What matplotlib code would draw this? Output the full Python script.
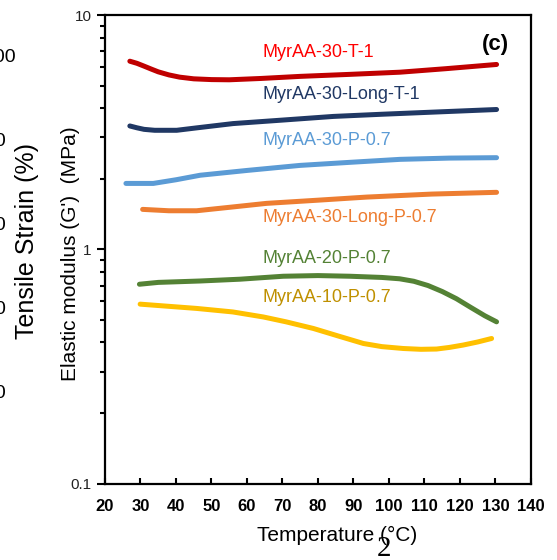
import numpy as np
import matplotlib
matplotlib.use('Agg')
import matplotlib.pyplot as plt
from matplotlib.ticker import LogLocator, NullFormatter, FixedFormatter, FixedLocator

plt.rcParams['font.family'] = ['Liberation Sans', 'DejaVu Sans']

# temperature sweeps (deg C) and storage modulus G' (MPa)
t_30_T1 = [27.0, 29.0, 31.0, 33.0, 35.0, 38.0, 41.0, 45.0, 50.0, 55.0, 64.0, 74.9, 89.0, 103.1, 116.0, 130.3]
g_30_T1 = [6.35, 6.22, 6.05, 5.88, 5.72, 5.55, 5.43, 5.34, 5.30, 5.29, 5.36, 5.47, 5.58, 5.70, 5.90, 6.15]

t_30L_T1 = [27.0, 29.0, 31.0, 34.0, 40.2, 46.0, 56.1, 70.0, 84.3, 98.0, 112.5, 130.3]
g_30L_T1 = [3.36, 3.30, 3.25, 3.22, 3.22, 3.30, 3.44, 3.56, 3.69, 3.77, 3.85, 3.95]

t_30_P07 = [25.9, 33.6, 40.0, 46.8, 60.0, 74.9, 89.0, 103.1, 117.0, 130.3]
g_30_P07 = [1.91, 1.91, 1.98, 2.07, 2.17, 2.28, 2.35, 2.42, 2.45, 2.46]

t_30L_P07 = [30.6, 38.0, 45.8, 55.0, 65.5, 80.0, 93.7, 112.0, 130.3]
g_30L_P07 = [1.48, 1.46, 1.46, 1.51, 1.57, 1.62, 1.67, 1.72, 1.75]

t_20_P07 = [29.7, 35.0, 46.8, 58.0, 70.2, 80.0, 89.0, 98.0, 103.0, 107.0, 111.0, 115.0, 119.0, 123.0, 127.0, 130.3]
g_20_P07 = [0.709, 0.722, 0.732, 0.745, 0.767, 0.772, 0.767, 0.758, 0.748, 0.730, 0.700, 0.660, 0.615, 0.565, 0.520, 0.490]

t_10_P07 = [29.9, 45.8, 56.0, 64.6, 71.0, 78.7, 86.0, 92.8, 98.0, 104.0, 109.0, 113.4, 117.0, 120.9, 125.0, 128.9]
g_10_P07 = [0.583, 0.559, 0.540, 0.514, 0.490, 0.459, 0.425, 0.396, 0.384, 0.377, 0.374, 0.375, 0.381, 0.390, 0.402, 0.416]

series = [
    ('MyrAA-30-T-1', t_30_T1, g_30_T1, '#C00000', '#FF0000', 6.9),
    ('MyrAA-30-Long-T-1', t_30L_T1, g_30L_T1, '#203864', '#203864', 4.6),
    ('MyrAA-30-P-0.7', t_30_P07, g_30_P07, '#5B9BD5', '#5B9BD5', 2.92),
    ('MyrAA-30-Long-P-0.7', t_30L_P07, g_30L_P07, '#ED7D31', '#ED7D31', 1.36),
    ('MyrAA-20-P-0.7', t_20_P07, g_20_P07, '#548235', '#548235', 0.915),
    ('MyrAA-10-P-0.7', t_10_P07, g_10_P07, '#FFC000', '#BF9000', 0.624),
]

fig = plt.figure(figsize=(5.57, 5.60), dpi=100)
ax = fig.add_axes([0.1885, 0.1366, 0.7648, 0.8366])

for name, t, g, lc, tc, ylab in series:
    ax.plot(t, g, color=lc, lw=3.6, solid_capstyle='round', solid_joinstyle='round')
    ax.text(64.5, ylab, name, color=tc, fontsize=13, va='center', ha='left')

ax.text(130.1, 7.5, '(c)', fontsize=16, fontweight='bold', ha='center', va='center')

ax.set_yscale('log')
ax.set_xlim(20, 140)
ax.set_ylim(0.1, 10)
ax.set_xticks(np.arange(20, 141, 10))
ax.tick_params(axis='x', direction='in', length=4, width=1.5, labelsize=12, pad=11)
for lab in ax.get_xticklabels():
    lab.set_fontweight('bold')
ax.yaxis.set_major_locator(FixedLocator([0.1, 1, 10]))
ax.yaxis.set_major_formatter(FixedFormatter(['0.1', '1', '10']))
ax.yaxis.set_minor_locator(LogLocator(base=10, subs=np.arange(2, 10)))
ax.yaxis.set_minor_formatter(NullFormatter())
ax.tick_params(axis='y', which='major', direction='out', length=6, width=1.5, labelsize=11, labelcolor='#222222')
ax.tick_params(axis='y', which='minor', direction='out', length=3.5, width=1.5)
for sp in ax.spines.values():
    sp.set_linewidth(1.6)

ax.set_xlabel('Temperature (°C)', fontsize=15, va='center')
ax.xaxis.set_label_coords(0.546, -0.110)
ax.set_ylabel("Elastic modulus (G')  (MPa)", fontsize=15, va='center')
ax.yaxis.set_label_coords(-0.080, 0.49)

# neighbouring panel, cut off at the left edge
fig.text(27 / 557, 1 - 241 / 560, 'Tensile Strain (%)', rotation=90, fontsize=18,
         ha='center', va='center')
for ypx, s, xr in [(57, '100', 16), (141, '80', 6), (225, '60', 6), (309, '40', 6), (393, '20', 6)]:
    fig.text(xr / 557, 1 - ypx / 560, s, fontsize=14, ha='right', va='center')

# page number
fig.text(384 / 557, 1 - 549 / 560, '2', fontsize=21, family='Liberation Serif',
         ha='center', va='center')

fig.savefig('out.png', dpi=100)
